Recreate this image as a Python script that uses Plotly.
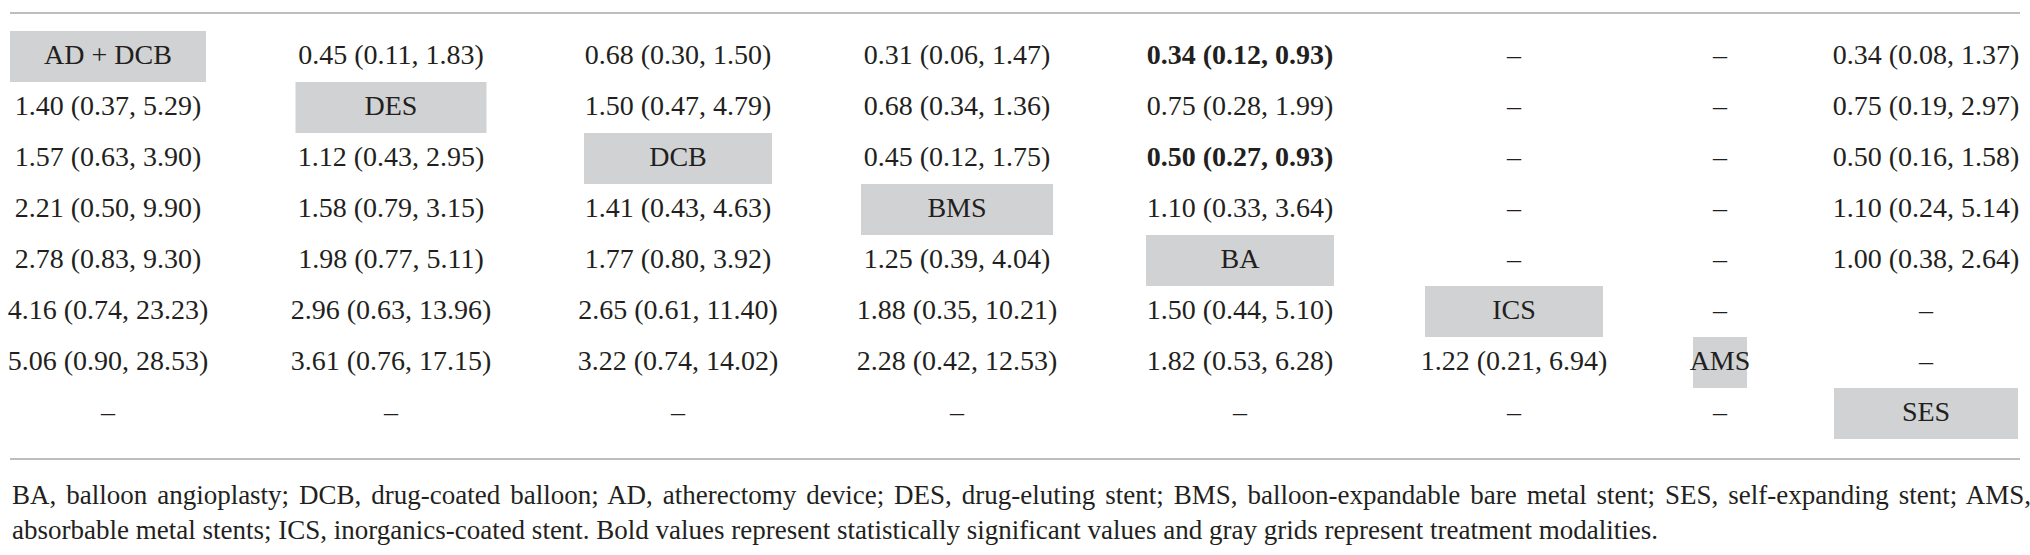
import plotly.graph_objects as go

# ---------------- data ----------------
treatments = ["AD + DCB", "DES", "DCB", "BMS", "BA", "ICS", "AMS", "SES"]

# league table: row i, column j ; diagonal holds treatment names
row_1 = ["AD + DCB", "0.45 (0.11, 1.83)", "0.68 (0.30, 1.50)", "0.31 (0.06, 1.47)", "0.34 (0.12, 0.93)", "–", "–", "0.34 (0.08, 1.37)"]
row_2 = ["1.40 (0.37, 5.29)", "DES", "1.50 (0.47, 4.79)", "0.68 (0.34, 1.36)", "0.75 (0.28, 1.99)", "–", "–", "0.75 (0.19, 2.97)"]
row_3 = ["1.57 (0.63, 3.90)", "1.12 (0.43, 2.95)", "DCB", "0.45 (0.12, 1.75)", "0.50 (0.27, 0.93)", "–", "–", "0.50 (0.16, 1.58)"]
row_4 = ["2.21 (0.50, 9.90)", "1.58 (0.79, 3.15)", "1.41 (0.43, 4.63)", "BMS", "1.10 (0.33, 3.64)", "–", "–", "1.10 (0.24, 5.14)"]
row_5 = ["2.78 (0.83, 9.30)", "1.98 (0.77, 5.11)", "1.77 (0.80, 3.92)", "1.25 (0.39, 4.04)", "BA", "–", "–", "1.00 (0.38, 2.64)"]
row_6 = ["4.16 (0.74, 23.23)", "2.96 (0.63, 13.96)", "2.65 (0.61, 11.40)", "1.88 (0.35, 10.21)", "1.50 (0.44, 5.10)", "ICS", "–", "–"]
row_7 = ["5.06 (0.90, 28.53)", "3.61 (0.76, 17.15)", "3.22 (0.74, 14.02)", "2.28 (0.42, 12.53)", "1.82 (0.53, 6.28)", "1.22 (0.21, 6.94)", "AMS", "–"]
row_8 = ["–", "–", "–", "–", "–", "–", "–", "SES"]
rows = [row_1, row_2, row_3, row_4, row_5, row_6, row_7, row_8]

# statistically significant cells (row, col) shown in bold
significant = [(0, 4), (2, 4)]

footnote_line_1 = ("BA, balloon angioplasty; DCB, drug-coated balloon; AD, atherectomy device; "
                   "DES, drug-eluting stent; BMS, balloon-expandable bare metal stent; "
                   "SES, self-expanding stent; AMS,")
footnote_line_2 = ("absorbable metal stents; ICS, inorganics-coated stent. Bold values represent "
                   "statistically significant values and gray grids represent treatment modalities.")

# ---------------- layout constants ----------------
W, H = 2030, 555
col_centers = [108, 391, 678, 957, 1240, 1514, 1720, 1926]
col_widths = [196, 191, 188, 192, 188, 178, 54, 184]
row_top, row_h = 31, 51
top_rule, bottom_rule = 13, 459
foot_y = [495, 530]
FONT = "Liberation Serif"
TXT = "#231F20"
GRAY = "#D1D2D4"
RULE = "#A7A9AC"

# y axis in row units, mapped so that row i sits at row_top + (i+0.5)*row_h pixels
y_top = -(row_top / row_h) - 0.5
y_bot = (H - row_top) / row_h - 0.5

fig = go.Figure()

# gray diagonal cells (treatment modalities)
for i, name in enumerate(treatments):
    fig.add_shape(type="rect", xref="x", yref="y",
                  x0=col_centers[i] - col_widths[i] / 2, x1=col_centers[i] + col_widths[i] / 2,
                  y0=i - 0.5, y1=i + 0.5, fillcolor=GRAY, line=dict(width=0), layer="below")

xs, ys, texts = [], [], []
for i, r in enumerate(rows):
    for j, t in enumerate(r):
        xs.append(col_centers[j])
        ys.append(i)
        texts.append(f"<b>{t}</b>" if (i, j) in significant else t)

fig.add_trace(go.Scatter(x=xs, y=ys, text=texts, mode="text", textposition="middle center",
                         textfont=dict(family=FONT, size=28, color=TXT), hoverinfo="skip",
                         cliponaxis=False, showlegend=False))

# rules
for yp in [top_rule, bottom_rule]:
    fig.add_shape(type="line", xref="x", yref="paper", x0=10, x1=2020,
                  y0=1 - yp / H, y1=1 - yp / H, line=dict(color=RULE, width=1.5))

# footnote (first line justified across the full table width)
fig.add_annotation(text=f'<span style="word-spacing:3.2px">{footnote_line_1}</span>',
                   xref="x", yref="paper", x=10, y=1 - foot_y[0] / H,
                   xanchor="left", yanchor="middle", showarrow=False,
                   font=dict(family=FONT, size=27, color=TXT))
fig.add_annotation(text=footnote_line_2, xref="x", yref="paper", x=10, y=1 - foot_y[1] / H,
                   xanchor="left", yanchor="middle", showarrow=False,
                   font=dict(family=FONT, size=27, color=TXT))

fig.update_layout(width=W, height=H, margin=dict(l=0, r=0, t=0, b=0),
                  paper_bgcolor="white", plot_bgcolor="white",
                  xaxis=dict(range=[0, W], visible=False, fixedrange=True),
                  yaxis=dict(range=[y_bot, y_top], visible=False, fixedrange=True))

fig.write_html("out.html", config={"displayModeBar": False},
               post_script="document.body.style.margin='0px';document.body.style.overflow='hidden';")
